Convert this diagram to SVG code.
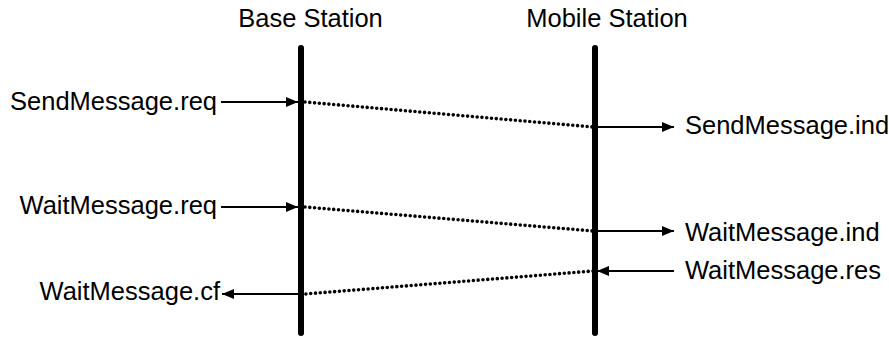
<svg xmlns="http://www.w3.org/2000/svg" width="889" height="338" viewBox="0 0 889 338">
  <style>
    text { font-family: "Liberation Sans", Arial, sans-serif; font-size: 25.5px; fill: #000; }
    .life { stroke: #000; stroke-width: 6; stroke-linecap: round; fill: none; }
    .prim { stroke: #000; stroke-width: 2; fill: none; }
    .msg { stroke: #000; stroke-width: 3.6; stroke-linecap: round; stroke-dasharray: 0 4.8; fill: none; }
  </style>
  <defs>
    <marker id="head" viewBox="0 0 12 10" refX="12" refY="5" markerWidth="12" markerHeight="10" markerUnits="userSpaceOnUse" orient="auto">
      <path d="M0,0 L12,5 L0,10 Z" fill="#000"/>
    </marker>
  </defs>
  <rect width="889" height="338" fill="#fff"/>

  <g id="base-station">
    <text x="310.5" y="27" text-anchor="middle">Base Station</text>
    <line class="life" x1="301" y1="48" x2="301" y2="333"/>
  </g>
  <g id="mobile-station">
    <text x="607" y="27" text-anchor="middle">Mobile Station</text>
    <line class="life" x1="595" y1="48" x2="595" y2="333"/>
  </g>

  <g id="labels">
    <text x="217" y="110" text-anchor="end">SendMessage.req</text>
    <text x="685" y="134">SendMessage.ind</text>
    <text x="217" y="214" text-anchor="end">WaitMessage.req</text>
    <text x="685" y="241">WaitMessage.ind</text>
    <text x="685" y="279">WaitMessage.res</text>
    <text x="220" y="300" text-anchor="end">WaitMessage.cf</text>
  </g>

  <g id="connectors">
    <!-- service primitives at each station -->
    <line class="prim" x1="221" y1="102" x2="298" y2="102" marker-end="url(#head)"/>
    <line class="prim" x1="597" y1="127" x2="674" y2="127" marker-end="url(#head)"/>
    <line class="prim" x1="221" y1="207" x2="298" y2="207" marker-end="url(#head)"/>
    <line class="prim" x1="597" y1="231" x2="674" y2="231" marker-end="url(#head)"/>
    <line class="prim" x1="674" y1="271" x2="597" y2="271" marker-end="url(#head)"/>
    <line class="prim" x1="299" y1="294" x2="222" y2="294" marker-end="url(#head)"/>
    <!-- peer messages over the air -->
    <line class="msg" x1="305" y1="102" x2="593" y2="127"/>
    <line class="msg" x1="305" y1="207" x2="593" y2="231"/>
    <line class="msg" x1="593" y1="271" x2="305" y2="294"/>
  </g>
</svg>
